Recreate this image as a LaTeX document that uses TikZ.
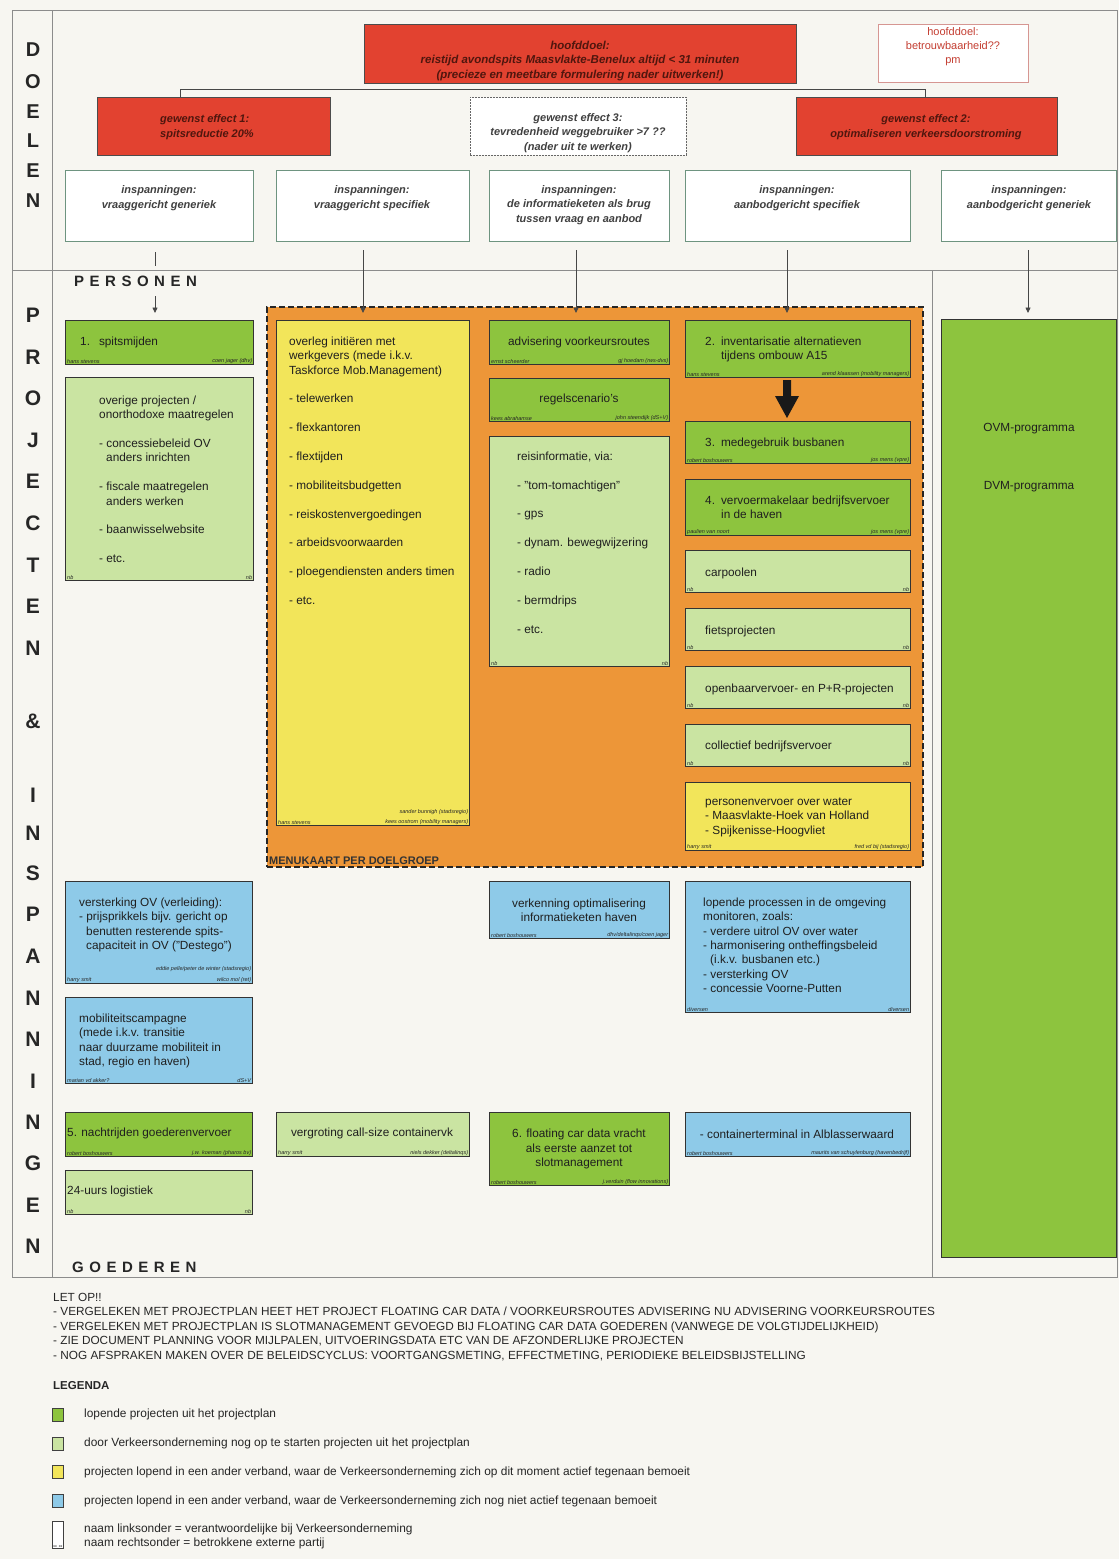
\documentclass[tikz,border=0pt]{standalone}
\usepackage{fontspec}
\setmainfont{Liberation Sans}
\usetikzlibrary{arrows.meta}

\definecolor{paper}{RGB}{247,246,241}
\definecolor{goalred}{RGB}{226,66,48}
\definecolor{goaltext}{RGB}{80,22,14}
\definecolor{pmred}{RGB}{196,62,50}
\definecolor{pmedge}{RGB}{214,150,146}
\definecolor{effortedge}{RGB}{110,148,128}
\definecolor{runG}{RGB}{141,196,62}
\definecolor{newG}{RGB}{202,228,162}
\definecolor{ylw}{RGB}{242,229,90}
\definecolor{blu}{RGB}{142,202,232}
\definecolor{orng}{RGB}{237,150,56}

% project box: name, fill, x, y (top left), width, height
\newcommand{\pjbox}[6]{%
  \node[pbox,fill=#2,minimum width=#5pt,minimum height=#6pt,anchor=north west] (#1) at (#3,#4) {};}
% responsible persons in the lower corners of a box
\newcommand{\pjnames}[3]{%
  \node[nm,anchor=south west] (#1-l) at ([shift={(2pt,1.5pt)}]#1.south west) {#2};
  \node[nm,anchor=south east] (#1-r) at ([shift={(-2pt,1.5pt)}]#1.south east) {#3};}

\begin{document}
\begin{tikzpicture}[x=1pt,y=-1pt,
  frameline/.style={draw=black!45,line width=0.9pt},
  pbox/.style={draw=black!80,line width=1.3pt,inner sep=0pt},
  txt/.style={font=\fontsize{11.8}{14.4}\selectfont,inner sep=0pt,align=left,text=black!88},
  ctxt/.style={txt,align=center},
  nm/.style={font=\fontsize{5.5}{6.5}\selectfont\itshape,inner sep=0pt,text=black!85},
  goalbox/.style={draw=black!70,line width=1pt,fill=goalred,inner sep=0pt},
  goaltxt/.style={font=\fontsize{11}{14.5}\selectfont\bfseries\itshape,text=goaltext,align=center,inner sep=0pt},
  effbox/.style={draw=effortedge,line width=1pt,fill=white,inner sep=0pt},
  efftxt/.style={font=\fontsize{11}{14.8}\selectfont\bfseries\itshape,text=black!75,align=center,inner sep=0pt},
  conn/.style={draw=black!72,line width=0.8pt},
  arr/.style={conn,-{Triangle[length=5.5pt,width=5pt]}},
  sidel/.style={font=\fontsize{20}{20}\selectfont\bfseries,text=black!85,inner sep=0pt},
  sidelb/.style={font=\fontsize{21}{21}\selectfont\bfseries,text=black!85,inner sep=0pt},
  grp/.style={font=\fontsize{15}{15}\selectfont\bfseries,text=black!85,inner sep=0pt,anchor=west},
  leg/.style={font=\fontsize{11.9}{14}\selectfont,inner sep=0pt,anchor=west,text=black!85},
  legsq/.style={draw=black!75,line width=0.9pt,inner sep=0pt,minimum width=11pt,minimum height=13pt,anchor=north west},
]
\useasboundingbox (0,0) rectangle (1119,1559);
\fill[paper] (0,0) rectangle (1119,1559);

% ---------- frame ----------
\draw[frameline] (12,10) rectangle (1117,1277);
\draw[frameline] (52,10) -- (52,1277);
\draw[frameline] (12,270) -- (1117,270);
\draw[frameline] (932,270) -- (932,1277);

\foreach \ch/\yy [count=\k] in {D/50,O/82,E/112,L/141,E/171,N/201}
  \node[sidel] (dl\k) at (33,\yy) {\ch};
\foreach \ch/\yy [count=\k] in {P/315,R/357,O/398,J/440,E/481,C/523,T/565,E/606,N/648,\&/721,I/795,N/833,S/873,P/914,A/956,N/998,N/1039,I/1081,N/1122,G/1163,E/1205,N/1246}
  \node[sidelb] (pl\k) at (33,\yy) {\ch};

\node[grp] (personen) at (74,281) {P\hspace{5.5pt}E\hspace{5.5pt}R\hspace{5.5pt}S\hspace{5.5pt}O\hspace{5.5pt}N\hspace{5.5pt}E\hspace{5.5pt}N};
\node[grp] (goederen) at (72,1267) {G\hspace{5.5pt}O\hspace{5.5pt}E\hspace{5.5pt}D\hspace{5.5pt}E\hspace{5.5pt}R\hspace{5.5pt}E\hspace{5.5pt}N};

% ---------- goals ----------
\node[goalbox,minimum width=432pt,minimum height=59pt,anchor=north west] (main) at (364,24) {};
\node[goaltxt,font=\fontsize{11.5}{14.5}\selectfont\bfseries\itshape] (main-t) at (580,61) {hoofddoel:\\reistijd avondspits Maasvlakte-Benelux altijd < 31 minuten\\(precieze en meetbare formulering nader uitwerken!)};

\node[draw=pmedge,line width=0.8pt,fill=white,minimum width=150pt,minimum height=58pt,anchor=north west,inner sep=0pt] (hd2) at (878,24) {};
\node[font=\fontsize{11}{14}\selectfont,text=pmred,align=center,inner sep=0pt] (hd2-t) at (953,47) {hoofddoel:\\betrouwbaarheid??\\pm};

\node[goalbox,minimum width=233pt,minimum height=58pt,anchor=north west] (eff1) at (97,97) {};
\node[goaltxt,align=left] (eff1-t) at (207,127) {gewenst effect 1:\\spitsreductie 20\%};

\node[draw=black!60,line width=0.8pt,dash pattern=on 2pt off 1pt,fill=white,minimum width=216pt,minimum height=58pt,anchor=north west,inner sep=0pt] (eff3) at (470,97) {};
\node[efftxt] (eff3-t) at (578,133) {gewenst effect 3:\\tevredenheid weggebruiker >7 ??\\(nader uit te werken)};

\node[goalbox,minimum width=261pt,minimum height=58pt,anchor=north west] (eff2) at (796,97) {};
\node[goaltxt] (eff2-t) at (926,127) {gewenst effect 2:\\optimaliseren verkeersdoorstroming};

\coordinate (jl) at (180,89);
\coordinate (jr) at (925,89);
\draw[conn,line width=1pt] (jl |- eff1.north) -- (jl) -- (jr) -- (jr |- eff2.north);

% ---------- efforts ----------
\node[effbox,minimum width=188pt,minimum height=71pt,anchor=north west] (i1) at (65,170) {};
\node[effbox,minimum width=193pt,minimum height=71pt,anchor=north west] (i2) at (276,170) {};
\node[effbox,minimum width=180pt,minimum height=71pt,anchor=north west] (i3) at (489,170) {};
\node[effbox,minimum width=225pt,minimum height=71pt,anchor=north west] (i4) at (685,170) {};
\node[effbox,minimum width=175pt,minimum height=71pt,anchor=north west] (i5) at (941,170) {};
\node[efftxt] (i1-t) at (159,198) {inspanningen:\\vraaggericht generiek};
\node[efftxt] (i2-t) at (372,198) {inspanningen:\\vraaggericht specifiek};
\node[efftxt] (i3-t) at (579,205) {inspanningen:\\de informatieketen als brug\\tussen vraag en aanbod};
\node[efftxt] (i4-t) at (797,198) {inspanningen:\\aanbodgericht specifiek};
\node[efftxt] (i5-t) at (1029,198) {inspanningen:\\aanbodgericht generiek};

% ---------- menu per target group ----------
\node[draw=black!85,line width=1.6pt,dash pattern=on 6pt off 3pt,fill=orng,minimum width=656pt,minimum height=560pt,anchor=north west,inner sep=0pt] (menu) at (266,306) {};
\node[font=\bfseries\fontsize{11}{13}\selectfont,anchor=south west,inner sep=0pt,text=black!80] (menu-t) at ([shift={(3pt,2.5pt)}]menu.south west) {MENUKAART PER DOELGROEP};

% persons, demand side
\pjbox{p1}{runG}{65}{320}{188}{44}
\node[txt,anchor=west] (p1-t) at (80,342) {1.\hspace{9pt}spitsmijden};
\pjnames{p1}{hans stevens}{coen jager (dhv)}

\pjbox{ov}{newG}{65}{377}{188}{203}
\node[txt,anchor=north west] (ov-t) at (99,395.5) {overige projecten /\\onorthodoxe maatregelen\\[14.4pt]- concessiebeleid OV\\\hspace*{7pt}anders inrichten\\[14.4pt]- fiscale maatregelen\\\hspace*{7pt}anders werken\\[14.4pt]- baanwisselwebsite\\[14.4pt]- etc.};
\pjnames{ov}{nb}{nb}

\pjbox{y1}{ylw}{276}{320}{193}{505}
\node[txt,anchor=north west] (y1-t) at (289,336.5) {overleg initiëren met\\werkgevers (mede i.k.v.\\Taskforce Mob.Management)\\[14.4pt]- telewerken\\[14.4pt]- flexkantoren\\[14.4pt]- flextijden\\[14.4pt]- mobiliteitsbudgetten\\[14.4pt]- reiskostenvergoedingen\\[14.4pt]- arbeidsvoorwaarden\\[14.4pt]- ploegendiensten anders timen\\[14.4pt]- etc.};
\pjnames{y1}{hans stevens}{kees oostrom (mobility managers)}
\node[nm,anchor=south east] (y1-r2) at ([yshift=4pt]y1-r.north east) {sander bunnigh (stadsregio)};

% information chain
\pjbox{adv}{runG}{489}{320}{180}{44}
\node[ctxt] (adv-t) at (579,342) {advisering voorkeursroutes};
\pjnames{adv}{ernst scheerder}{gj hoedam (rws-dvs)}

\pjbox{rgl}{runG}{489}{378}{180}{43}
\node[ctxt] (rgl-t) at (579,399) {regelscenario's};
\pjnames{rgl}{kees abrahamse}{john steendijk (dS+V)}

\pjbox{ri}{newG}{489}{436}{180}{230}
\node[txt,anchor=north west] (ri-t) at (517,451.5) {reisinformatie, via:\\[14.4pt]- "tom-tomachtigen"\\[14.4pt]- gps\\[14.4pt]- dynam. bewegwijzering\\[14.4pt]- radio\\[14.4pt]- bermdrips\\[14.4pt]- etc.};
\pjnames{ri}{nb}{nb}

% supply side, specific
\pjbox{p2}{runG}{685}{320}{225}{57}
\node[txt,anchor=north west] (p2-t) at (705,336.5) {2.\hspace{6pt}inventarisatie alternatieven\\\hspace*{16pt}tijdens ombouw A15};
\pjnames{p2}{hans stevens}{arend klaassen (mobility managers)}

\pjbox{p3}{runG}{685}{421}{225}{42}
\node[txt,anchor=west] (p3-t) at (705,443) {3.\hspace{6pt}medegebruik busbanen};
\pjnames{p3}{robert boshouwers}{jos mens (vpre)}

\fill[black!90] (783,380) -- (791,380) -- (791,396) -- (799,396) -- (787,418) -- (775,396) -- (783,396) -- cycle;

\pjbox{p4}{runG}{685}{479}{225}{56}
\node[txt,anchor=north west] (p4-t) at (705,495.5) {4.\hspace{6pt}vervoermakelaar bedrijfsvervoer\\\hspace*{16pt}in de haven};
\pjnames{p4}{paulien van noort}{jos mens (vpre)}

\pjbox{carp}{newG}{685}{550}{225}{42}
\node[txt,anchor=west] (carp-t) at (705,573) {carpoolen};
\pjnames{carp}{nb}{nb}

\pjbox{fiets}{newG}{685}{608}{225}{42}
\node[txt,anchor=west] (fiets-t) at (705,631) {fietsprojecten};
\pjnames{fiets}{nb}{nb}

\pjbox{ovpr}{newG}{685}{666}{225}{42}
\node[txt,anchor=west] (ovpr-t) at (705,689) {openbaarvervoer- en P+R-projecten};
\pjnames{ovpr}{nb}{nb}

\pjbox{coll}{newG}{685}{724}{225}{42}
\node[txt,anchor=west] (coll-t) at (705,746) {collectief bedrijfsvervoer};
\pjnames{coll}{nb}{nb}

\pjbox{water}{ylw}{685}{782}{225}{68}
\node[txt,anchor=north west] (water-t) at (705,797.5) {personenvervoer over water\\- Maasvlakte-Hoek van Holland\\- Spijkenisse-Hoogvliet};
\pjnames{water}{harry smit}{fred vd bij (stadsregio)}

% supply side, generic
\pjbox{ovm}{runG}{941}{319}{175}{938}
\node[ctxt] (ovm-t1) at (1029,429) {OVM-programma};
\node[ctxt] (ovm-t2) at (1029,487) {DVM-programma};

% other frameworks
\pjbox{vov}{blu}{65}{881}{187}{102}
\node[txt,anchor=north west] (vov-t) at (79,897.5) {versterking OV (verleiding):\\- prijsprikkels bijv. gericht op\\\hspace*{7pt}benutten resterende spits-\\\hspace*{7pt}capaciteit in OV ("Destego")};
\pjnames{vov}{harry smit}{wilco mol (ret)}
\node[nm,anchor=south east] (vov-r2) at ([yshift=5pt]vov-r.north east) {eddie pelle/peter de winter (stadsregio)};

\pjbox{mob}{blu}{65}{997}{187}{86}
\node[txt,anchor=north west] (mob-t) at (79,1013.5) {mobiliteitscampagne\\(mede i.k.v. transitie\\naar duurzame mobiliteit in\\stad, regio en haven)};
\pjnames{mob}{marian vd akker?}{dS+V}

\pjbox{verk}{blu}{489}{881}{180}{57}
\node[ctxt] (verk-t) at (579,910) {verkenning optimalisering\\informatieketen haven};
\pjnames{verk}{robert boshouwers}{dhv/deltalinqs/coen jager}

\pjbox{lop}{blu}{685}{881}{225}{131}
\node[txt,anchor=north west] (lop-t) at (703,897.5) {lopende processen in de omgeving\\monitoren, zoals:\\- verdere uitrol OV over water\\- harmonisering ontheffingsbeleid\\\hspace*{7pt}(i.k.v. busbanen etc.)\\- versterking OV\\- concessie Voorne-Putten};
\pjnames{lop}{diversen}{diversen}

% goods
\pjbox{p5}{runG}{65}{1112}{187}{44}
\node[txt,anchor=west] (p5-t) at (67,1133) {5. nachtrijden goederenvervoer};
\pjnames{p5}{robert boshouwers}{j.w. koeman (pharos bv)}

\pjbox{log}{newG}{65}{1170}{187}{44}
\node[txt,anchor=west] (log-t) at (67,1191) {24-uurs logistiek};
\pjnames{log}{nb}{nb}

\pjbox{call}{newG}{276}{1112}{193}{44}
\node[ctxt] (call-t) at (372,1133) {vergroting call-size containervk};
\pjnames{call}{harry smit}{niels dekker (deltalinqs)}

\pjbox{p6}{runG}{489}{1112}{180}{73}
\node[ctxt] (p6-t) at (579,1149) {6. floating car data vracht\\als eerste aanzet tot\\slotmanagement};
\pjnames{p6}{robert boshouwers}{j.verduin (flow innovations)}

\pjbox{cont}{blu}{685}{1112}{225}{44}
\node[ctxt] (cont-t) at (797,1134) {- containerterminal in Alblasserwaard};
\pjnames{cont}{robert boshouwers}{maurits van schuylenburg (havenbedrijf)}

% ---------- connectors from the efforts ----------
\coordinate (a1s) at (155,252);
\coordinate (a1e) at (155,266);
\draw[conn] (a1s) -- (a1e);
\coordinate (a1b) at (155,296);
\coordinate (a1t) at (155,313);
\draw[arr] (a1b) -- (a1t);
\coordinate (a2s) at (363,250);
\coordinate (a2t) at (363,313);
\draw[arr] (a2s) -- (a2t);
\coordinate (a3s) at (576,250);
\coordinate (a3t) at (576,313);
\draw[arr] (a3s) -- (a3t);
\coordinate (a4s) at (787,250);
\coordinate (a4t) at (787,313);
\draw[arr] (a4s) -- (a4t);
\coordinate (a5s) at (1028,250);
\coordinate (a5t) at (1028,313);
\draw[arr] (a5s) -- (a5t);

% ---------- notes ----------
\node[anchor=north west,align=left,font=\fontsize{11.8}{14.4}\selectfont,inner sep=0pt,text=black!85] (notes) at (53,1293) {LET OP!!\\- VERGELEKEN MET PROJECTPLAN HEET HET PROJECT FLOATING CAR DATA / VOORKEURSROUTES ADVISERING NU ADVISERING VOORKEURSROUTES\\- VERGELEKEN MET PROJECTPLAN IS SLOTMANAGEMENT GEVOEGD BIJ FLOATING CAR DATA GOEDEREN (VANWEGE DE VOLGTIJDELIJKHEID)\\- ZIE DOCUMENT PLANNING VOOR MIJLPALEN, UITVOERINGSDATA ETC VAN DE AFZONDERLIJKE PROJECTEN\\- NOG AFSPRAKEN MAKEN OVER DE BELEIDSCYCLUS: VOORTGANGSMETING, EFFECTMETING, PERIODIEKE BELEIDSBIJSTELLING};

% ---------- legend ----------
\node[leg,font=\fontsize{11.5}{13}\selectfont\bfseries] (legenda) at (53,1386) {LEGENDA};
\node[legsq,fill=runG] (lg1) at (52,1408) {};
\node[legsq,fill=newG] (lg2) at (52,1437) {};
\node[legsq,fill=ylw] (lg3) at (52,1465) {};
\node[legsq,fill=blu] (lg4) at (52,1494) {};
\node[legsq,fill=white,minimum height=27pt] (lg5) at (52,1521) {};
\node[font=\fontsize{3.5}{4}\selectfont,inner sep=0pt,anchor=south] (lg5-t) at ([yshift=1.5pt]lg5.south) {xx\hspace{2pt}xx};
\node[leg] (lt1) at (84,1414) {lopende projecten uit het projectplan};
\node[leg] (lt2) at (84,1443) {door Verkeersonderneming nog op te starten projecten uit het projectplan};
\node[leg] (lt3) at (84,1472) {projecten lopend in een ander verband, waar de Verkeersonderneming zich op dit moment actief tegenaan bemoeit};
\node[leg] (lt4) at (84,1501) {projecten lopend in een ander verband, waar de Verkeersonderneming zich nog niet actief tegenaan bemoeit};
\node[leg] (lt5) at (84,1529) {naam linksonder = verantwoordelijke bij Verkeersonderneming};
\node[leg] (lt6) at (84,1543) {naam rechtsonder = betrokkene externe partij};
\end{tikzpicture}
\end{document}
